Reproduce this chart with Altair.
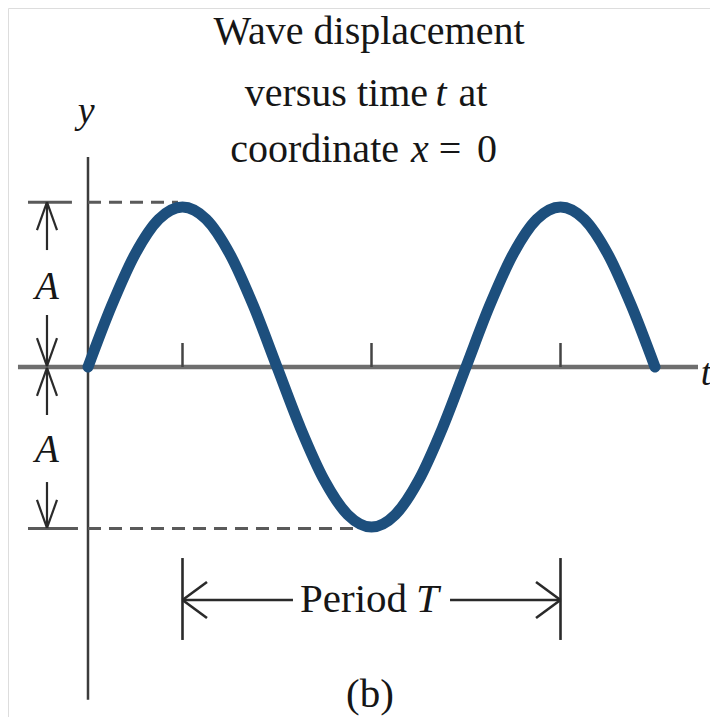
import altair as alt
import pandas as pd

# ---- data: wave displacement (units of A) vs time (units of T/4) ----
t_vals = [0, 0.25, 0.5, 0.75, 1, 1.25, 1.5, 1.75, 2, 2.25, 2.5, 2.75, 3,
          3.25, 3.5, 3.75, 4, 4.25, 4.5, 4.75, 5, 5.25, 5.5, 5.75, 6]
y_vals = [0, 0.383, 0.707, 0.924, 1, 0.924, 0.707, 0.383, 0, -0.383, -0.707,
          -0.924, -1, -0.924, -0.707, -0.383, 0, 0.383, 0.707, 0.924, 1,
          0.924, 0.707, 0.383, 0]
tick_t = [1, 3, 5]

title_lines = ["Wave displacement", "versus time", "t", "at",
               "coordinate", "x", "=", "0"]

W, H = 702, 709
xs = alt.Scale(domain=[-0.84656, 6.58201], nice=False, zero=False)
ys = alt.Scale(domain=[2.24375 - H / 160, 2.24375], nice=False, zero=False)

def X(f="x"):
    return alt.X(f"{f}:Q", scale=xs, axis=None)

def Y(f="y"):
    return alt.Y(f"{f}:Q", scale=ys, axis=None)

wave = pd.DataFrame({"x": t_vals, "y": y_vals})
curve = alt.Chart(wave).mark_line(
    color="#1d4f7d", strokeWidth=11, interpolate="monotone", strokeCap="round"
).encode(x=X(), y=Y())

def segs(rows, color, width, dash=None):
    df = pd.DataFrame(rows, columns=["x", "y", "x2", "y2"])
    kw = dict(color=color, strokeWidth=width)
    if dash:
        kw["strokeDash"] = dash
    return alt.Chart(df).mark_rule(**kw).encode(
        x=X(), y=Y(), x2="x2:Q", y2="y2:Q")

# axes
h_axis = segs([[-0.741, 0, 6.455, 0]], "#6e6e6e", 4.5)
v_axis = segs([[0, 1.3125, 0, -2.08]], "#3c3c3c", 2.5)
ticks = segs([[t, 0, t, 0.15] for t in tick_t], "#444444", 2.5)

# amplitude guide lines
solid_ext = segs([[-0.635, 1.03, -0.17, 1.03],
                  [-0.635, -1.01, -0.106, -1.01]], "#5a5a5a", 3)
dashed = segs([[0, 1.03, 0.952, 1.03],
               [0, -1.01, 2.98, -1.01]], "#5a5a5a", 3, dash=[13, 8])

ax = -0.434
arrows_A = segs([
    [ax, 1.031, ax, 0.731],
    [ax, 1.031, -0.540, 0.856], [ax, 1.031, -0.328, 0.856],
    [ax, 0.325, ax, 0.006],
    [ax, 0.006, -0.540, 0.181], [ax, 0.006, -0.328, 0.181],
    [ax, -0.006, ax, -0.300],
    [ax, -0.006, -0.540, -0.181], [ax, -0.006, -0.328, -0.181],
    [ax, -0.719, ax, -1.006],
    [ax, -1.006, -0.540, -0.831], [ax, -1.006, -0.328, -0.831],
], "#2a2a2a", 2.2)

py = -1.456
period = segs([
    [1, -1.194, 1, -1.706],
    [5, -1.194, 5, -1.706],
    [1, py, 2.169, py],
    [3.831, py, 5, py],
    [1, py, 1.259, -1.344], [1, py, 1.259, -1.569],
    [5, py, 4.741, -1.344], [5, py, 4.741, -1.569],
], "#2a2a2a", 2.6)

FONT = "Liberation Serif"

def texts(rows, align="center", italic=False, size=40, baseline="alphabetic"):
    df = pd.DataFrame(rows, columns=["x", "y", "label"])
    kw = dict(align=align, baseline=baseline, font=FONT, fontSize=size,
              color="#161616")
    if italic:
        kw["fontStyle"] = "italic"
    return alt.Chart(df).mark_text(**kw).encode(x=X(), y=Y(), text="label:N")

title_c = texts([[2.974, 2.019, title_lines[0]],
                 [4.074, 1.631, title_lines[3]],
                 [3.831, 1.281, title_lines[6]],
                 [4.222, 1.281, title_lines[7]]])
title_r = texts([[3.598, 1.631, title_lines[1]],
                 [3.291, 1.281, title_lines[4]]], align="right")
title_i = texts([[3.735, 1.631, title_lines[2]],
                 [3.513, 1.281, title_lines[5]]], italic=True)

axis_labels = texts([[-0.02, 1.525, "y"], [6.54, -0.1125, "t"]],
                    italic=True, size=38)
a_labels = texts([[ax, 0.5, "A"], [ax, -0.519, "A"]], italic=True, size=39,
                 baseline="middle")
period_r = texts([[3.376, -1.456, "Period"]], align="right", size=41,
                 baseline="middle")
period_i = texts([[3.471, -1.456, "T"]], align="left", italic=True, size=41,
                 baseline="middle")
b_label = texts([[2.984, -2.05, "(b)"]], size=41, baseline="middle")

chart = alt.layer(
    h_axis, v_axis, ticks, solid_ext, dashed, arrows_A, period,
    curve,
    title_c, title_r, title_i, axis_labels, a_labels, period_r, period_i,
    b_label,
).properties(
    width=W, height=H, padding=0,
    autosize=alt.AutoSizeParams(type="none"),
).configure_view(stroke=None).configure(background="white")

chart.save("out.html", embed_options={"renderer": "svg", "actions": False})
